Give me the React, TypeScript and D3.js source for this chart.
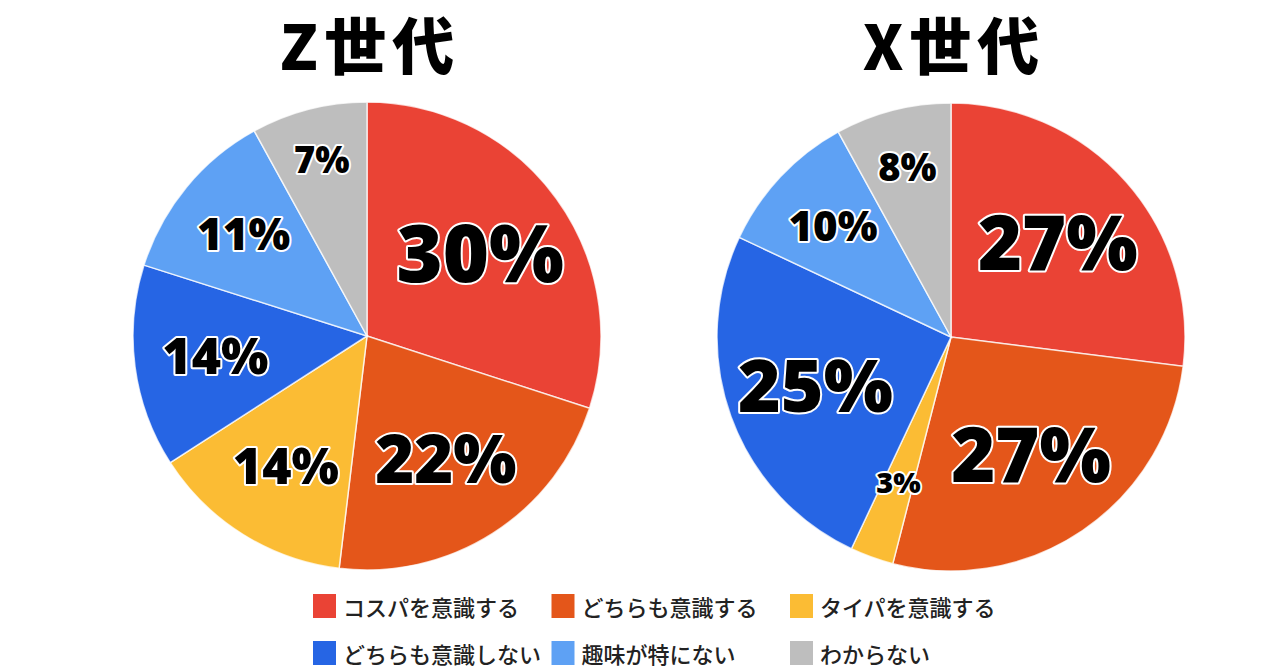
import * as d3 from 'd3';

const categories = [
  'コスパを意識する',
  'どちらも意識する',
  'タイパを意識する',
  'どちらも意識しない',
  '趣味が特にない',
  'わからない',
];
const colors = ['#EA4335', '#E4561A', '#FBBC34', '#2665E4', '#5EA1F4', '#BEBEBE'];

// Z世代: printed labels, and slice sizes as drawn (labels do not sum to 100)
const zPercents = [30, 22, 14, 14, 11, 7];
const zShares = [30.0, 21.9, 14.0, 14.0, 12.1, 8.0];
// X世代
const xPercents = [27, 27, 3, 25, 10, 8];
const xShares = [27, 27, 3, 25, 10, 8];

const W = 1280;
const H = 670;
const R = 234;

// label size and distance grow/shrink with the printed share
const fontSize = d3.scaleLinear().domain([3, 8, 14, 25, 30]).range([29, 38, 50, 73, 79]).clamp(true);
const labelRadius = d3.scaleLinear().domain([3, 7, 10, 14, 30]).range([155, 182, 162, 153, 140]).clamp(true);

const LABEL_FONT = '"Noto Sans", "Noto Sans CJK JP", sans-serif';
const JP_FONT = '"Noto Sans CJK JP", "Noto Sans", sans-serif';

function Pie({ cx, cy, title, shares, percents }: { cx: number; cy: number; title: string; shares: number[]; percents: number[] }) {
  const pie = d3
    .pie<number>()
    .sort(null)
    .value((d) => d);
  const arcs = pie(shares);
  const arc = d3.arc<d3.PieArcDatum<number>>().innerRadius(0).outerRadius(R);

  return (
    <g>
      <text
        x={cx + 3}
        y={70}
        textAnchor="middle"
        fontFamily={JP_FONT}
        fontWeight={900}
        fontSize={62}
        letterSpacing={6}
        fill="#000"
      >
        {title}
      </text>
      <g transform={`translate(${cx},${cy})`}>
        {arcs.map((a, i) => (
          <path key={i} d={arc(a) || ''} fill={colors[i]} stroke="#fff" strokeOpacity={0.75} strokeWidth={1.5} />
        ))}
        {arcs.map((a, i) => {
          const mid = (a.startAngle + a.endAngle) / 2;
          const r = labelRadius(percents[i]);
          const x = Math.sin(mid) * r;
          const y = -Math.cos(mid) * r;
          return (
            <text
              key={i}
              x={x}
              y={y}
              dy="0.36em"
              textAnchor="middle"
              fontFamily={LABEL_FONT}
              fontWeight={900}
              fontSize={fontSize(percents[i])}
              fill="#000"
              stroke="#fff"
              strokeWidth={4}
              strokeLinejoin="round"
              style={{ paintOrder: 'stroke' }}
            >
              {percents[i]}%
            </text>
          );
        })}
      </g>
    </g>
  );
}

export default function App() {
  const legendX = d3.scalePoint<number>().domain([0, 1, 2]).range([313, 790]);
  const legendY = d3.scalePoint<number>().domain([0, 1]).range([606, 653]);

  return (
    <svg
      width={W}
      height={H}
      viewBox={`0 0 ${W} ${H}`}
      style={{ position: 'absolute', left: 0, top: 0, background: '#fff' }}
    >
      <rect width={W} height={H} fill="#fff" />
      <Pie cx={367} cy={336} title="Z世代" shares={zShares} percents={zPercents} />
      <Pie cx={951} cy={337} title="X世代" shares={xShares} percents={xPercents} />
      <g>
        {categories.map((c, i) => {
          const x = legendX(i % 3)!;
          const y = legendY(Math.floor(i / 3))!;
          return (
            <g key={c} transform={`translate(${x},${y})`}>
              <rect x={0} y={-12} width={23} height={24} fill={colors[i]} />
              <text
                x={30}
                y={0}
                dominantBaseline="central"
                fontFamily={JP_FONT}
                fontWeight={500}
                fontSize={22}
                fill="#222"
              >
                {c}
              </text>
            </g>
          );
        })}
      </g>
    </svg>
  );
}
